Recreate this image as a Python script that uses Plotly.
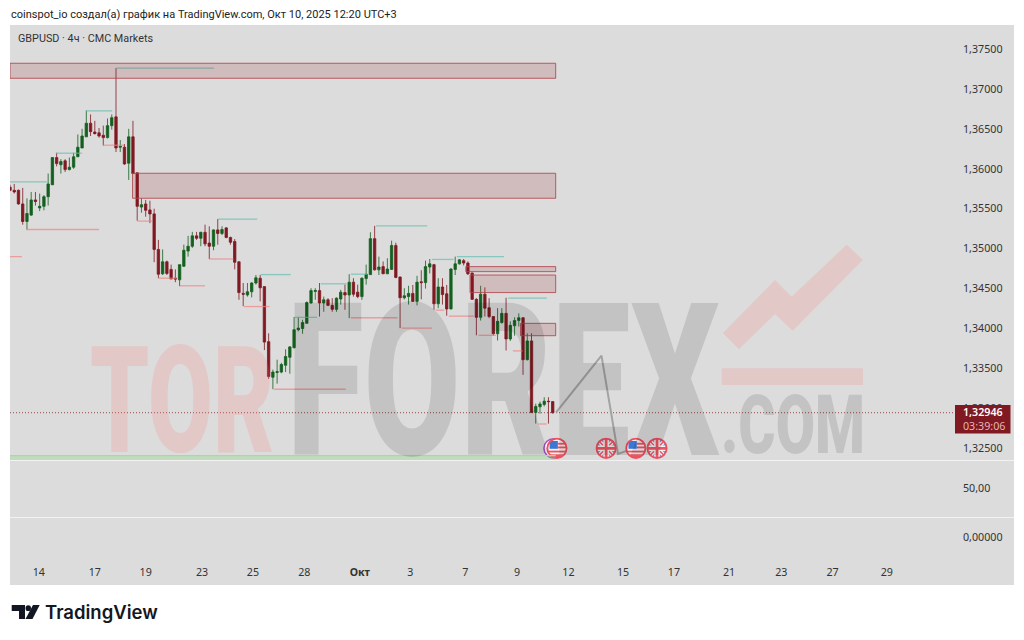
import base64
import plotly.graph_objects as go

# ---------- data ----------
opens = [1.3577,1.3573,1.3573,1.3556,1.3534,1.3542,1.3561,1.3551,1.3553,1.3565,
1.3580,1.3614,1.3605,1.3610,1.3599,1.3602,1.3615,1.3626,1.3640,1.3657,
1.3646,1.3645,1.3642,1.3639,1.3654,1.3665,1.3627,1.3627,1.3607,1.3640,
1.3595,1.3552,1.3556,1.35485,1.35435,1.3499,1.34685,1.34835,1.3474,1.3463,
1.3461,1.3478,1.3497,1.3503,1.3516,1.3513,1.35205,1.3507,1.3503,1.35235,
1.3519,1.3526,1.3514,1.3509,1.34835,1.3444,1.3442,1.3446,1.3457,1.3463,
1.34525,1.33835,1.3339,1.3345,1.33455,1.3354,1.3364,1.3376,1.33985,1.3400,
1.34065,1.3432,1.34465,1.34475,1.3432,1.3436,1.3429,1.3424,1.3437,1.3445,
1.3442,1.3458,1.34455,1.3440,1.34625,1.34675,1.35125,1.34735,1.34775,1.34685,
1.3474,1.3504,1.34645,1.34385,1.3440,1.3444,1.3434,1.34585,1.34575,1.3477,
1.3480,1.3431,1.3452,1.34435,1.34245,1.3474,1.3481,1.3485,1.3482,1.34695,
1.34365,1.3414,1.3443,1.3426,1.3415,1.33935,1.34075,1.3419,1.3387,1.34035,
1.3410,1.34135,1.3361,1.33845,1.3295,1.3302,1.3305,1.3309,1.33085]
highs = [1.3580,1.3581,1.3574,1.3576,1.3563,1.3571,1.3571,1.3569,1.3567,1.3594,
1.3580,1.3620,1.3612,1.3612,1.3614,1.3620,1.3643,1.3650,1.3673,1.3668,
1.3660,1.3651,1.3654,1.3663,1.3668,1.3726,1.3636,1.3631,1.3650,1.3660,
1.3595,1.3563,1.3561,1.3560,1.3550,1.3511,1.3499,1.3485,1.3480,1.3474,
1.3480,1.3505,1.3516,1.3521,1.3521,1.3521,1.3530,1.3528,1.3524,1.3537,
1.3528,1.3527,1.3515,1.3512,1.3484,1.3457,1.3457,1.3458,1.3467,1.3467,
1.34525,1.3394,1.33485,1.3361,1.3357,1.3374,1.3378,1.34145,1.3414,1.3411,
1.3434,1.34505,1.34505,1.3457,1.3440,1.3438,1.3438,1.3439,1.34485,1.3455,
1.3468,1.3463,1.3455,1.3464,1.3480,1.35205,1.35285,1.3490,1.3484,1.3488,
1.3510,1.35075,1.3465,1.34505,1.34535,1.34545,1.3466,1.3473,1.3485,1.3487,
1.3481,1.3463,1.3463,1.34545,1.34755,1.3490,1.3487,1.3487,1.3484,1.3470,
1.3438,1.34535,1.34515,1.3438,1.3415,1.34255,1.34255,1.34385,1.3409,1.3414,
1.3419,1.3414,1.3394,1.3394,1.3306,1.33085,1.3314,1.3314,1.3309]
lows = [1.3572,1.3569,1.3555,1.3530,1.3524,1.3541,1.3554,1.3547,1.3548,1.3554,
1.3580,1.3603,1.3594,1.3596,1.3598,1.3600,1.3615,1.3626,1.3640,1.3641,
1.3643,1.3639,1.3629,1.3638,1.3649,1.3621,1.3621,1.3605,1.3586,1.3594,
1.3535,1.3545,1.3540,1.3532,1.3483,1.3463,1.3467,1.3467,1.3462,1.3458,
1.3453,1.3477,1.3490,1.3501,1.3511,1.3503,1.3503,1.3487,1.3498,1.3505,
1.3517,1.3513,1.3505,1.3474,1.3436,1.3428,1.3440,1.3439,1.3455,1.3434,
1.3373,1.3337,1.3324,1.3331,1.3344,1.33455,1.33435,1.3375,1.33965,1.33935,
1.34065,1.3431,1.3436,1.3415,1.3421,1.3428,1.3421,1.3421,1.3430,1.34235,
1.3413,1.3440,1.3438,1.3436,1.3455,1.3467,1.34725,1.3467,1.34685,1.34685,
1.34735,1.3463,1.34005,1.34365,1.3430,1.34335,1.3429,1.34365,1.3450,1.3469,
1.34235,1.34255,1.3430,1.3416,1.3424,1.3467,1.3480,1.3479,1.3467,1.3436,
1.33915,1.3410,1.3415,1.3413,1.3391,1.3385,1.3406,1.33725,1.33845,1.3391,
1.34025,1.3342,1.3360,1.3294,1.3281,1.32935,1.33025,1.3281,1.32935]
closes = [1.3573,1.3571,1.3556,1.3534,1.3544,1.3561,1.3559,1.3553,1.3565,1.3581,
1.3614,1.36065,1.3609,1.3599,1.3602,1.3615,1.3627,1.3641,1.3657,1.36465,
1.3644,1.3641,1.3639,1.3654,1.3664,1.3626,1.3628,1.3606,1.3640,1.3594,
1.3553,1.3555,1.3548,1.35435,1.3499,1.3468,1.34835,1.3469,1.3462,1.3462,
1.3480,1.3498,1.3503,1.3516,1.3513,1.35205,1.3506,1.3503,1.35235,1.3519,
1.3524,1.3514,1.3508,1.3483,1.3445,1.3443,1.3446,1.3457,1.34635,1.3451,
1.3383,1.3340,1.33455,1.3346,1.3355,1.3365,1.3377,1.33985,1.34005,1.34075,
1.34325,1.34475,1.34475,1.3432,1.3436,1.3429,1.3424,1.3438,1.34455,1.3442,
1.3458,1.3443,1.3440,1.3463,1.3468,1.35125,1.34735,1.3477,1.34685,1.34745,
1.3504,1.3464,1.34385,1.3441,1.3444,1.3434,1.3458,1.34575,1.34775,1.3481,
1.3431,1.3452,1.34425,1.34245,1.34745,1.3481,1.3486,1.3482,1.34685,1.34365,
1.3414,1.3443,1.34255,1.3415,1.33935,1.3409,1.3419,1.3387,1.3404,1.3410,
1.34135,1.3361,1.33845,1.3295,1.33025,1.33055,1.3309,1.33085,1.32946]
bars = list(range(len(opens)))

price_ticks = [1.325,1.33,1.335,1.34,1.345,1.35,1.355,1.36,1.365,1.37,1.375]
date_pos = [6.8,20,32,45.3,57.3,69.4,82.5,94.4,107.4,119.6,131.7,144.6,156.6,169.6,181.9,194,206.8]
date_labels = ["14","17","19","23","25","28","<b>Окт</b>","3","7","9","12","15","17","21","23","27","29"]

# levels: start bar, end bar, price
high_levels = [(0,8.7,1.35835),(10.8,17,1.36195),(17.9,24.1,1.36725),(25,48.1,1.3726),(49,58.3,1.3537),
(59.1,66.2,1.34675),(67.2,72.4,1.3414),(73.3,79.4,1.3456),(80.4,84.2,1.3468),(86.3,98.4,1.35285),
(99.5,104.6,1.34865),(105.4,116.5,1.3490),(117.5,126.6,1.3438)]
low_levels = [(0,2.8,1.3490),(3.8,21,1.3524),(22,27,1.36295),(30,33.5,1.35345),(35,39.3,1.3463),(40.1,46,1.34535),
(47,52.7,1.3487),(55.2,61.2,1.34275),(62.3,79.2,1.3324),(80.4,91.4,1.34135),(92.4,99.5,1.34005),
(100.4,102.4,1.3423),(103.5,109.4,1.34155),(110.5,114.6,1.33915),(118.6,120.9,1.3372),(124.6,126.6,1.32805)]
# zones: start bar, end bar, top price, bottom price
zones = [(0,128.7,1.37321,1.37133),(28.9,128.7,1.35944,1.35631),(107.5,128.7,1.34775,1.34712),
(108.5,128.7,1.3467,1.3445),(120.4,128.7,1.34065,1.3391)]
green_zone = (0,128.7,1.3241,1.32354)
proj_x = [128.8,139.5,143.4,147]
proj_y = [1.3295,1.3366,1.3243,1.3250]
last_price = 1.32946
event_bars = [129,140.6,147.6,152.6]
event_kinds = ["us","uk","us","uk"]
event_price = 1.3250

UP, DOWN = "#14601f", "#801922"
TEXT = "#333333"
FONT = "Noto Sans"

# chrome helpers: pixel -> paper
L, R, T, B = 10, 955, 25, 557
px = lambda v: (v - L) / (R - L)
py = lambda v: (B - v) / (B - T)

def flag(kind):
    if kind == "us":
        inner = ('<rect width="48" height="48" fill="#f7f2f2"/>'
                 '<rect x="26" y="12" width="22" height="4" fill="#ee5563"/>'
                 '<rect x="26" y="20" width="22" height="4" fill="#ee5563"/>'
                 '<rect x="0" y="29" width="48" height="4" fill="#ee5563"/>'
                 '<rect x="0" y="37" width="48" height="8" fill="#ee5563"/>'
                 '<rect x="8" y="8" width="18" height="17" fill="#3a78d4"/>')
    else:
        inner = ('<rect width="48" height="48" fill="#f7f2f2"/>'
                 '<path d="M0 0H48V48H0Z" fill="#3a78d4" opacity="0.75"/>'
                 '<path d="M0 0L48 48M48 0L0 48" stroke="#f7f2f2" stroke-width="9"/>'
                 '<path d="M0 0L48 48M48 0L0 48" stroke="#ee5563" stroke-width="3"/>'
                 '<path d="M24 0V48M0 24H48" stroke="#f7f2f2" stroke-width="12"/>'
                 '<path d="M24 0V48M0 24H48" stroke="#ee5563" stroke-width="6"/>')
    svg = ('<svg xmlns="http://www.w3.org/2000/svg" width="48" height="48" viewBox="0 0 48 48">'
           '<clipPath id="c"><circle cx="24" cy="24" r="21"/></clipPath>'
           '<g clip-path="url(#c)">' + inner + '</g>'
           '<circle cx="24" cy="24" r="21" fill="none" stroke="#f04e5e" stroke-width="4"/></svg>')
    return "data:image/svg+xml;base64," + base64.b64encode(svg.encode()).decode()

fig = go.Figure()
fig.add_trace(go.Candlestick(x=bars, open=opens, high=highs, low=lows, close=closes,
    increasing=dict(line=dict(color="rgba(20,96,31,0.8)", width=1), fillcolor=UP),
    decreasing=dict(line=dict(color="rgba(128,25,34,0.8)", width=1), fillcolor=DOWN),
    whiskerwidth=0, hoverinfo="skip", showlegend=False))

for x0, x1, p in high_levels:
    fig.add_trace(go.Scatter(x=[x0, x1], y=[p, p], mode="lines", showlegend=False, hoverinfo="skip",
                             line=dict(color="rgba(100,190,175,0.7)", width=1.3)))
for x0, x1, p in low_levels:
    fig.add_trace(go.Scatter(x=[x0, x1], y=[p, p], mode="lines", showlegend=False, hoverinfo="skip",
                             line=dict(color="rgba(240,130,130,0.7)", width=1.3)))
fig.add_trace(go.Scatter(x=[0, 222.9], y=[last_price, last_price], mode="lines", showlegend=False, hoverinfo="skip",
                         line=dict(color="rgba(128,25,34,0.75)", width=1, dash="1px 2px")))
fig.add_trace(go.Scatter(x=proj_x, y=proj_y, mode="lines", showlegend=False, hoverinfo="skip",
                         line=dict(color="#a3a3a3", width=2)))
fig.add_trace(go.Scatter(x=[0], y=[50], yaxis="y2", mode="markers", marker=dict(opacity=0), showlegend=False, hoverinfo="skip"))
fig.add_trace(go.Scatter(x=[0], y=[0], yaxis="y3", mode="markers", marker=dict(opacity=0), showlegend=False, hoverinfo="skip"))

shapes = [
    dict(type="rect", xref="paper", yref="paper", x0=0, x1=px(1014), y0=py(585), y1=py(25),
         fillcolor="#dcdcdc", line_width=0, layer="below"),
    # watermark logo
    dict(type="path", xref="paper", yref="paper", layer="below", fillcolor="rgba(255,120,120,0.2)", line_width=0,
         path="M%f %f L%f %f L%f %f L%f %f L%f %f L%f %f L%f %f L%f %f Z" % (
             px(723),py(333),px(775),py(280),px(791.7),py(296.7),px(846.7),py(244.7),
             px(862.7),py(260),px(792.7),py(330.7),px(775),py(314),px(739),py(349))),
    dict(type="rect", xref="paper", yref="paper", layer="below", fillcolor="rgba(255,120,120,0.2)", line_width=0,
         x0=px(721.7), x1=px(863), y0=py(385), y1=py(368.3)),
    # pane dividers
    dict(type="line", xref="paper", yref="paper", x0=0, x1=px(1014), y0=py(460.5), y1=py(460.5),
         line=dict(color="#f2f2f2", width=1), layer="above"),
    dict(type="line", xref="paper", yref="paper", x0=0, x1=px(1014), y0=py(517.5), y1=py(517.5),
         line=dict(color="#f2f2f2", width=1), layer="above"),
    # price label
    dict(type="rect", xref="paper", yref="paper", x0=px(955), x1=px(1010.5), y0=py(433.5), y1=py(405),
         fillcolor="#801922", line_width=0, layer="above"),
    # TradingView logo
    dict(type="path", xref="paper", yref="paper", fillcolor="#131722", line_width=0, layer="above",
         path="M%f %f L%f %f L%f %f L%f %f L%f %f L%f %f Z" % (
             px(11.7),py(605),px(25),py(605),px(25),py(619),px(19),py(619),px(19),py(611),px(11.7),py(611))),
    dict(type="circle", xref="paper", yref="paper", fillcolor="#131722", line_width=0, layer="above",
         x0=px(25.5), x1=px(31), y0=py(611), y1=py(605.3)),
    dict(type="path", xref="paper", yref="paper", fillcolor="#131722", line_width=0, layer="above",
         path="M%f %f L%f %f L%f %f L%f %f Z" % (px(33),py(605),px(39.7),py(605),px(32.5),py(619),px(25.5),py(619))),
]
for x0, x1, top, bot in zones:
    shapes.append(dict(type="rect", xref="x", yref="y", x0=x0, x1=x1, y0=bot, y1=top, layer="above",
                       fillcolor="rgba(150,25,34,0.17)", line=dict(color="rgba(175,70,75,0.85)", width=1)))
x0, x1, top, bot = green_zone
shapes.append(dict(type="rect", xref="x", yref="y", x0=x0, x1=x1, y0=bot, y1=top, layer="above",
                   fillcolor="rgba(120,210,110,0.25)", line_width=0))
shapes.append(dict(type="line", xref="x", yref="y", x0=x0, x1=x1, y0=top, y1=top, layer="above",
                   line=dict(color="#96e690", width=1.3)))

FLAG_W, FLAG_H = 5.2, 0.00276
images = [dict(source=("data:image/svg+xml;base64," + base64.b64encode(
    b'<svg xmlns="http://www.w3.org/2000/svg" width="48" height="48"><circle cx="24" cy="24" r="21" fill="#fff" stroke="#a855c8" stroke-width="3.5"/></svg>').decode()),
    xref="x", yref="y", x=event_bars[0] - 0.8, y=event_price, sizex=FLAG_W, sizey=FLAG_H,
    xanchor="center", yanchor="middle", layer="above")]
for b, k in zip(event_bars, event_kinds):
    images.append(dict(source=flag(k), xref="x", yref="y", x=b, y=event_price, sizex=FLAG_W, sizey=FLAG_H,
                       xanchor="center", yanchor="middle", layer="above"))

def note(text, x, y, size, color, anchor="left", **font):
    return dict(text=text, xref="paper", yref="paper", x=px(x), y=py(y), xanchor=anchor, yanchor="middle",
                showarrow=False, borderpad=0, font=dict(family=font.pop("family", FONT), size=size, color=color, **font))

WM_G = "rgba(0,0,0,0.115)"
WM_P = "rgba(255,120,120,0.2)"
annotations = [
    note("TOR", 89, 401.5, 148, WM_P, family="Roboto", weight=900),
    note("FOREX", 286, 381, 214, WM_G, family="Roboto", weight=900),
    note(".COM", 720, 425, 82, WM_G, family="Roboto", weight=900),
    note("coinspot_io создал(а) график на TradingView.com, Окт 10, 2025 12:20 UTC+3", 10, 14, 11, "#222222", family="Roboto"),
    note("GBPUSD · 4ч · CMC Markets", 17, 39, 10.8, "#333333", family="Roboto"),
    note("1,32946", 962, 412, 10.7, "#ffffff", weight=600),
    note("03:39:06", 962, 425.5, 10.7, "#e6b4b8"),
    note("TradingView", 44, 612, 18.5, "#131722", family="Inter", weight=600),
]

AX = dict(showgrid=False, zeroline=False, showline=False, ticks="", tickmode="array",
          tickfont=dict(family=FONT, size=10.7, color=TEXT))
fig.update_layout(
    width=1024, height=640, autosize=False,
    margin=dict(l=L, r=1024 - R, t=T, b=640 - B, pad=0),
    paper_bgcolor="#ffffff", plot_bgcolor="rgba(0,0,0,0)",
    separators=",.", showlegend=False, boxgap=0.2,
    font=dict(family=FONT, size=11, color=TEXT),
    shapes=shapes, images=images, annotations=annotations,
    xaxis=dict(range=[0, 222.88], anchor="y3", rangeslider=dict(visible=False), tickvals=date_pos, ticktext=date_labels,
               ticklabelstandoff=7, **AX),
    yaxis=dict(domain=[py(460), 1], range=[1.32354, 1.3780], side="right", anchor="x", tickvals=price_ticks, tickformat=".5f",
               ticklabelstandoff=7, **AX),
    yaxis2=dict(domain=[py(517), py(460)], range=[0, 100], side="right", anchor="x", tickvals=[50], tickformat=".2f",
                ticklabelstandoff=7, **AX),
    yaxis3=dict(domain=[0, py(517)], range=[-1, 1], side="right", anchor="x", tickvals=[0], tickformat=".5f",
                ticklabelstandoff=7, **AX),
)

post = """
document.body.style.margin = '0';
var sx = {'TOR': 0.635, 'FOREX': 0.655, '.COM': 0.695};
function squeeze() {
  document.querySelectorAll('.annotation text').forEach(function (t) {
    var k = sx[t.textContent];
    if (k) {
      t.style.transformBox = 'fill-box';
      t.style.transformOrigin = '0% 50%';
      t.style.transform = 'scaleX(' + k + ')';
    }
  });
}
squeeze();
"""
fig.write_html("out.html", post_script=post, config=dict(displayModeBar=False))
